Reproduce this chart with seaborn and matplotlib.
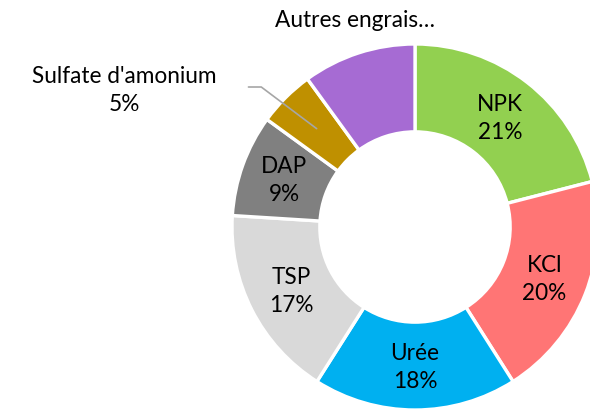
import numpy as np
import matplotlib
matplotlib.use("Agg")
import matplotlib.pyplot as plt
import seaborn as sns

categories = ["NPK", "KCl", "Urée", "TSP", "DAP", "Sulfate d'amonium", "Autres engrais…"]
values = [21, 20, 18, 17, 9, 5, 10]
colors = ["#92D050", "#FF7575", "#00B0F0", "#D9D9D9", "#808080", "#BF9000", "#A66BD3"]

sns.set_theme(style="white")
plt.rcParams['font.family'] = ['Lato', 'DejaVu Sans']

fig = plt.figure(figsize=(5.9, 4.1), dpi=100)
ax = fig.add_axes([0, 0, 1, 1])
R = 1.0
width = 0.48
wedges, _ = ax.pie(values, colors=colors, startangle=90, counterclock=False,
                   radius=R, wedgeprops=dict(width=width, edgecolor="white", linewidth=2.4))

fs = 16.3
ls = 1.42
rmid = R - width / 2
for w, cat, v in zip(wedges, categories, values):
    ang = np.deg2rad((w.theta1 + w.theta2) / 2)
    x, y = rmid * np.cos(ang), rmid * np.sin(ang)
    if cat.startswith("Sulfate"):
        ax.text(-1.59, 0.753, f"{cat}\n{v}%", ha="center", va="center", fontsize=fs,
                color="#000000", linespacing=ls)
        ax.plot([x, -0.84, -0.91], [y, 0.765, 0.765], color="#A6A6A6", lw=1.2)
    elif cat.startswith("Autres"):
        ax.text(-0.33, 1.135, cat, ha="center", va="center", fontsize=fs, color="#000000")
    else:
        ax.text(x, y, f"{cat}\n{v}%", ha="center", va="center", fontsize=fs,
                color="#000000", linespacing=ls)

s = 183.0
ax.set_xlim(-415 / s, (590 - 415) / s)
ax.set_ylim(-(410 - 228) / s, 228 / s)
ax.set_aspect("equal")
ax.axis("off")
fig.savefig("out.png", dpi=100)
